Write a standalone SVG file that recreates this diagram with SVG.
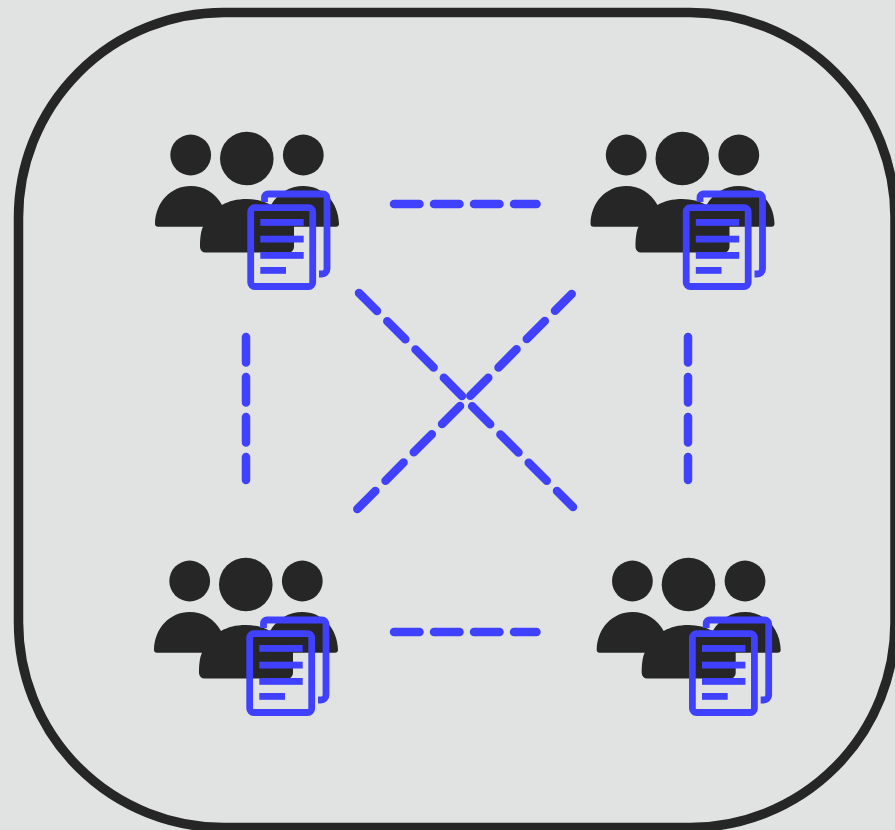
<svg xmlns="http://www.w3.org/2000/svg" width="895" height="830" viewBox="0 0 895 830">
<style>
.bg{fill:#e1e3e2}
.frame{fill:none;stroke:#262626;stroke-width:9.5}
.dark{fill:#262626}
.doc{fill:none;stroke:#4040ff;stroke-width:6.800}
.ln{fill:#4040ff}
.conn{fill:none;stroke:#4040ff;stroke-width:8.500;stroke-linecap:round;stroke-dasharray:25.500 14.500}
</style>
<defs>
<g id="team">
<circle class="dark" cx="190.7" cy="155" r="20.4"/>
<circle class="dark" cx="246.8" cy="158.5" r="26.8"/>
<circle class="dark" cx="303.3" cy="155" r="20.4"/>
<path class="dark" d="M158 226.8a3 3 0 0 1-3-3C155.500 202 171 186 190.700 186C204 186 215.500 193 222 205C229 201 237 199 246.800 199C256 199 264 201 271 205C278 193 290 186 303.300 186C323 186 338.500 202 339 223.800a3 3 0 0 1-3 3H294V247a5.500 5.500 0 0 1-5.500 5.500H205.500a5.500 5.500 0 0 1-5.500-5.500C200 240 200.500 232 203 226.800Z"/>
<path class="doc" d="M264.500 202V197.500a3.500 3.500 0 0 1 3.500-3.500H323a4 4 0 0 1 4 4V269a5 5 0 0 1-5 5H319"/>
<rect class="doc" x="250.700" y="207.700" width="62" height="78.800" rx="4"/>
<rect class="ln" x="260.300" y="219" width="43.400" height="6.800"/>
<rect class="ln" x="260.300" y="235.700" width="43.400" height="6.800"/>
<rect class="ln" x="260.300" y="252" width="43.400" height="6.800"/>
<rect class="ln" x="260.300" y="267" width="25.700" height="6.800"/>
</g>
</defs>
<rect class="bg" width="895" height="830"/>
<rect id="frame" class="frame" x="18.500" y="12.500" width="876.500" height="815" rx="205" ry="205"/>
<g id="connectors">
<line class="conn" x1="394" y1="204" x2="536.500" y2="204"/>
<line class="conn" x1="394" y1="632" x2="536.500" y2="632"/>
<line class="conn" x1="246" y1="337" x2="246" y2="480"/>
<line class="conn" x1="688" y1="337" x2="688" y2="480"/>
<line class="conn" x1="359" y1="293" x2="573" y2="507"/>
<line class="conn" x1="357.300" y1="509" x2="571.700" y2="294"/>
</g>
<g id="node-top-left"><use href="#team"/></g>
<g id="node-top-right"><use href="#team" x="435.500"/></g>
<g id="node-bottom-left"><use href="#team" x="-1" y="426"/></g>
<g id="node-bottom-right"><use href="#team" x="441.700" y="426"/></g>
</svg>
